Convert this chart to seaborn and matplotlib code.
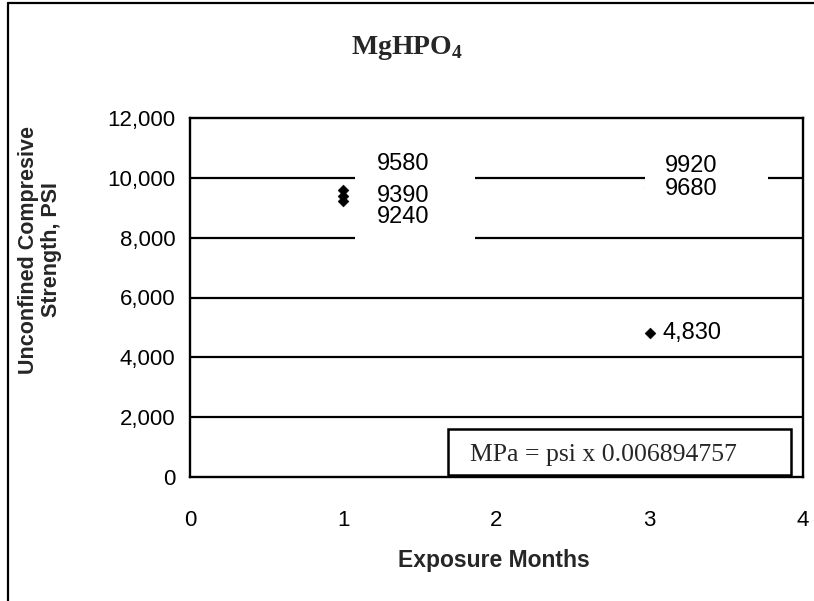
import matplotlib
matplotlib.use("Agg")
import matplotlib.pyplot as plt
import seaborn as sns
import pandas as pd
from matplotlib.patches import Rectangle
from matplotlib.lines import Line2D
from matplotlib.ticker import FuncFormatter

# ---- data ----
months = [1, 1, 1, 3, 3, 3]
strength = [9580, 9390, 9240, 9920, 9680, 4830]
labels = ["9580", "9390", "9240", "9920", "9680", "4,830"]
x_ticks = [0, 1, 2, 3, 4]
y_ticks = [0, 2000, 4000, 6000, 8000, 10000, 12000]
title = "MgHPO$_\\mathbf{4}$"
xlabel = "Exposure Months"
ylabel = "Unconfined Compresive\nStrength, PSI"
note = "MPa = psi x 0.006894757"

df = pd.DataFrame({"months": months, "strength": strength, "label": labels})

sns.set_theme(style="white")
plt.rcParams["font.family"] = ["Liberation Sans", "DejaVu Sans"]
plt.rcParams["mathtext.fontset"] = "custom"
plt.rcParams["mathtext.rm"] = "Liberation Serif"
plt.rcParams["mathtext.bf"] = "Liberation Serif:bold"

fig = plt.figure(figsize=(8.14, 6.01), dpi=100)
ax = fig.add_axes([190/814, 1-477/601, 613/814, 359/601])

# gridlines
for yv in y_ticks[1:-1]:
    ax.axhline(yv, color="black", lw=1.6, zorder=1)

sns.scatterplot(data=df, x="months", y="strength", marker="D", s=30,
                color="black", edgecolor="black", ax=ax, zorder=3, legend=False)

# white label backgrounds (as in the original chart)
ax.add_patch(Rectangle((1.077, 7850), 0.78, 3150, facecolor="white",
                       edgecolor="none", zorder=4))
ax.add_patch(Rectangle((2.97, 9300), 0.80, 1600, facecolor="white",
                       edgecolor="none", zorder=4))

offsets = [(24, 19), (24, 0), (24, -12), (11, 10), (11, -1), (9, 0)]
for (mx, sv, lab), off in zip(zip(months, strength, labels), offsets):
    ax.annotate(lab, (mx, sv), xytext=off, textcoords="offset points",
                ha="left", va="center", fontsize=17, zorder=5, color="black")

ax.set_xlim(0, 4)
ax.set_ylim(0, 12000)
ax.set_xticks(x_ticks)
ax.set_yticks(y_ticks)
ax.yaxis.set_major_formatter(FuncFormatter(lambda v, p: f"{int(v):,}"))
ax.tick_params(axis="both", direction="inout", length=9, width=1.4,
               color="black", labelsize=16, labelcolor="black")
ax.tick_params(axis="x", pad=19)
ax.tick_params(axis="y", pad=6)
ax.set_xlabel("")
ax.set_ylabel("")
for sp in ax.spines.values():
    sp.set_visible(True)
    sp.set_color("black")
    sp.set_linewidth(1.7)

# conversion note box
ax.add_patch(Rectangle((0.421, 0.005), 0.559, 0.129, transform=ax.transAxes,
                       facecolor="white", edgecolor="black", lw=1.8, zorder=6))
ax.text(0.457, 0.06, note, transform=ax.transAxes, ha="left", va="center",
        fontsize=18.5, family="Liberation Serif", zorder=7)

fig.text(0.5, 1-48/601, "MgHPO" + title[5:], ha="center", va="center",
         fontsize=20, fontweight="bold", family="Liberation Serif")
fig.text(494/814, 1-561/601, xlabel, ha="center", va="center",
         fontsize=16.5, fontweight="bold")
fig.text(40/814, 1-250/601, ylabel, ha="center", va="center", rotation=90,
         fontsize=15.5, fontweight="bold", linespacing=1.1)

# outer frame
fig.add_artist(Line2D([8/814, 8/814], [0, 1-3/601], transform=fig.transFigure,
                      color="black", lw=1.6))
fig.add_artist(Line2D([8/814, 1], [1-3/601, 1-3/601], transform=fig.transFigure,
                      color="black", lw=1.6))

fig.savefig("out.png", dpi=100)
